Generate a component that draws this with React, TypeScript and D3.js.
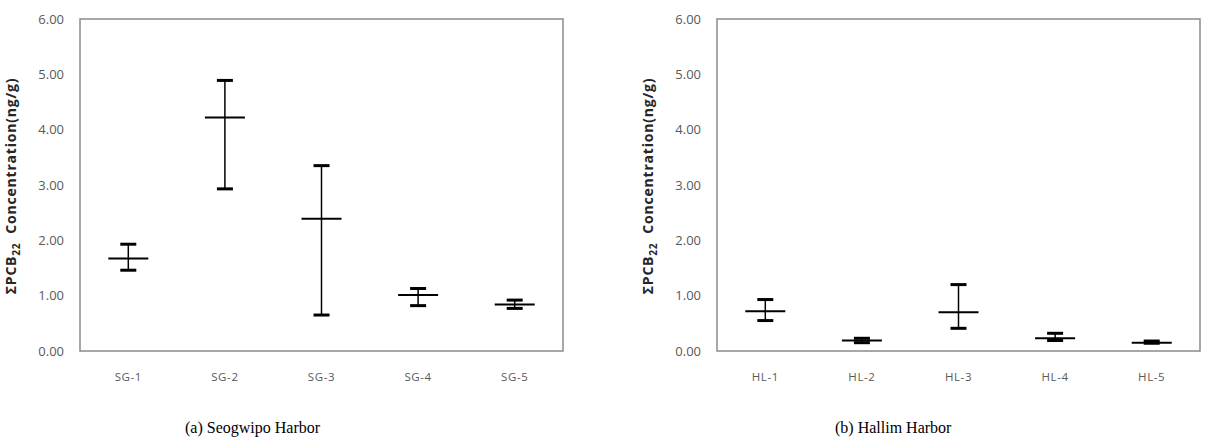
import React from "react";
import * as d3 from "d3";

const sgSites = ["SG-1", "SG-2", "SG-3", "SG-4", "SG-5"];
const sgMean = [1.67, 4.22, 2.39, 1.01, 0.84];
const sgMax = [1.93, 4.89, 3.35, 1.13, 0.92];
const sgMin = [1.46, 2.93, 0.65, 0.82, 0.77];

const hlSites = ["HL-1", "HL-2", "HL-3", "HL-4", "HL-5"];
const hlMean = [0.72, 0.19, 0.7, 0.23, 0.15];
const hlMax = [0.93, 0.23, 1.2, 0.32, 0.18];
const hlMin = [0.55, 0.15, 0.41, 0.19, 0.14];

const yTicks = [0, 1, 2, 3, 4, 5, 6];

const W = 1207;
const H = 439;

interface PanelProps {
  x0: number;
  x1: number;
  sites: string[];
  mean: number[];
  max: number[];
  min: number[];
  caption: string;
  captionX: number;
}

const Panel: React.FC<PanelProps> = ({ x0, x1, sites, mean, max, min, caption, captionX }) => {
  const top = 19;
  const bottom = 351;
  const x = d3.scaleBand<string>().domain(sites).range([x0, x1]);
  const y = d3.scaleLinear().domain([0, 6]).range([bottom, top]);
  const fmt = d3.format(".2f");
  const cx = (s: string) => (x(s) ?? 0) + x.bandwidth() / 2;

  return (
    <g>
      <rect
        x={x0}
        y={top}
        width={x1 - x0}
        height={bottom - top}
        fill="none"
        stroke="#8a8a8a"
        strokeWidth={1.5}
      />
      {yTicks.map((t) => (
        <text
          key={t}
          x={x0 - 16}
          y={y(t)}
          dy="0.35em"
          textAnchor="end"
          fontFamily="Open Sans"
          fontSize={13}
          fill="#595959"
        >
          {fmt(t)}
        </text>
      ))}
      {sites.map((s) => (
        <text
          key={s}
          x={cx(s)}
          y={377}
          dy="0.35em"
          textAnchor="middle"
          fontFamily="Open Sans"
          fontSize={11.5}
          letterSpacing={0.6}
          fill="#595959"
        >
          {s}
        </text>
      ))}
      <text
        transform={`translate(${x0 - 69},${(top + bottom) / 2 + 1}) rotate(-90)`}
        textAnchor="middle"
        dy="0.35em"
        fontFamily="Open Sans"
        fontWeight="bold"
        fontSize={14}
        letterSpacing={0.8}
        fill="#262626"
      >
        ΣPCB
        <tspan fontSize={10} dy="4">22</tspan>
        <tspan dy="-4" xmlSpace="preserve">{"  Concentration(ng/g)"}</tspan>
      </text>
      {sites.map((s, i) => (
        <g key={s} stroke="#000">
          <line x1={cx(s)} x2={cx(s)} y1={y(max[i])} y2={y(min[i])} strokeWidth={1.5} />
          <line x1={cx(s) - 8} x2={cx(s) + 8} y1={y(max[i])} y2={y(max[i])} strokeWidth={3} />
          <line x1={cx(s) - 8} x2={cx(s) + 8} y1={y(min[i])} y2={y(min[i])} strokeWidth={3} />
          <line x1={cx(s) - 20} x2={cx(s) + 20} y1={y(mean[i])} y2={y(mean[i])} strokeWidth={2} />
        </g>
      ))}
      <text
        x={captionX}
        y={433}
        fontFamily="Liberation Serif"
        fontSize={16}
        fill="#000"
      >
        {caption}
      </text>
    </g>
  );
};

export default function App() {
  return (
    <svg
      width={W}
      height={H}
      style={{ position: "absolute", left: 0, top: 0, background: "#fff" }}
    >
      <Panel
        x0={80}
        x1={563}
        sites={sgSites}
        mean={sgMean}
        max={sgMax}
        min={sgMin}
        caption="(a) Seogwipo Harbor"
        captionX={185}
      />
      <Panel
        x0={717}
        x1={1200}
        sites={hlSites}
        mean={hlMean}
        max={hlMax}
        min={hlMin}
        caption="(b) Hallim Harbor"
        captionX={835}
      />
    </svg>
  );
}
